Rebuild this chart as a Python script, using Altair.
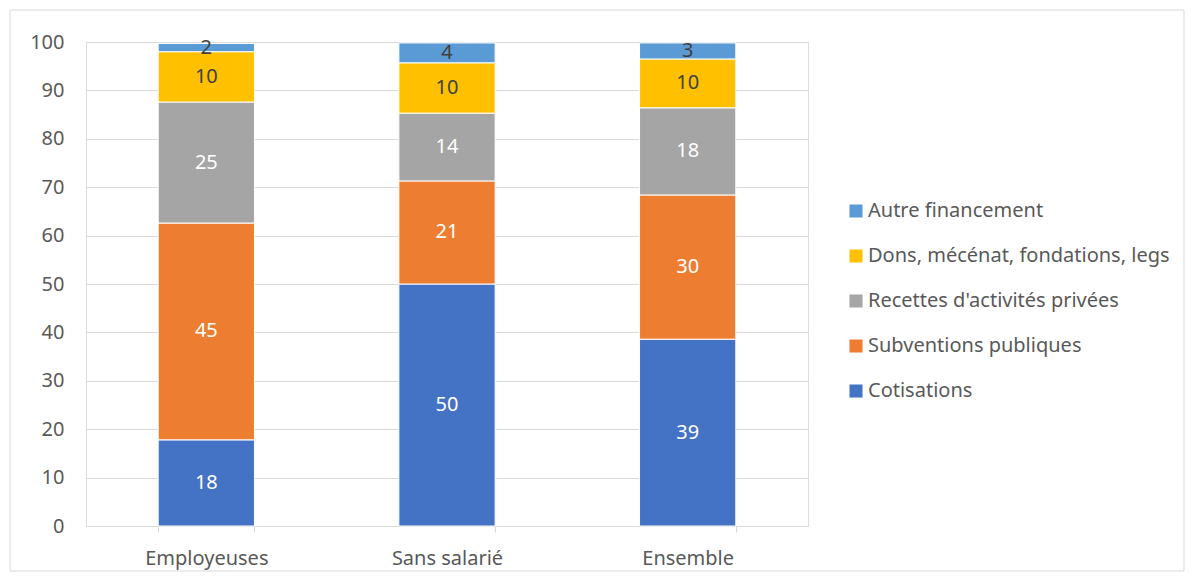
import altair as alt
import pandas as pd

categories = ["Employeuses", "Sans salarié", "Ensemble"]
series = ["Cotisations", "Subventions publiques", "Recettes d'activités privées",
          "Dons, mécénat, fondations, legs", "Autre financement"]
colors = ["#4472C4", "#ED7D31", "#A5A5A5", "#FFC000", "#5B9BD5"]
label_colors = ["white", "white", "white", "#404040", "#404040"]
values = {
    "Employeuses": [17.8, 44.8, 25.0, 10.4, 1.7],
    "Sans salarié": [50.0, 21.3, 14.0, 10.4, 4.1],
    "Ensemble": [38.6, 29.8, 18.0, 10.1, 3.3],
}

rows = []
for c in categories:
    for i, s in enumerate(series):
        rows.append({"cat": c, "serie": s, "idx": i, "value": values[c][i],
                     "tc": label_colors[i]})
df = pd.DataFrame(rows)

FONT = "Noto Sans"
FS = 20
legend_order = series[::-1]
legend_colors = colors[::-1]

base = alt.Chart(df).transform_stack(
    stack="value", groupby=["cat"], sort=[alt.SortField("idx", order="ascending")],
    as_=["y0", "y1"]
).transform_calculate(mid="(datum.y0 + datum.y1) / 2")

xenc = alt.X("cat:N", sort=categories, title=None,
             scale=alt.Scale(paddingInner=0.6, paddingOuter=0.3),
             axis=alt.Axis(labelAngle=0, labelFontSize=FS, labelColor="#595959",
                           labelFont=FONT, labelPadding=16, domainColor="#D9D9D9",
                           tickColor="#D9D9D9", tickBand="extent", tickSize=6,
                           grid=False))

bars = base.mark_bar(stroke="white", strokeWidth=1).encode(
    x=xenc,
    y=alt.Y("y0:Q", title=None,
            scale=alt.Scale(domain=[0, 100]),
            axis=alt.Axis(values=list(range(0, 101, 10)), labelFontSize=FS,
                          labelColor="#595959", labelFont=FONT, domain=False,
                          ticks=False, gridColor="#D9D9D9", labelPadding=22)),
    y2="y1:Q",
    color=alt.Color("serie:N", title=None,
                    scale=alt.Scale(domain=legend_order, range=legend_colors),
                    legend=alt.Legend(orient="none", legendX=760, legendY=159,
                                      labelFontSize=FS, labelFont=FONT,
                                      labelColor="#595959", symbolType="square",
                                      symbolSize=170, symbolStrokeWidth=0,
                                      rowPadding=25, labelOffset=2,
                                      labelLimit=400)),
    order=alt.Order("idx:Q"),
)

labels = base.mark_text(fontSize=FS, font=FONT, baseline="middle").encode(
    x=alt.X("cat:N", sort=categories),
    y=alt.Y("mid:Q"),
    text=alt.Text("value:Q", format=".0f"),
    color=alt.Color("tc:N", scale=None),
)

frame = alt.Chart(pd.DataFrame({"a": [0]})).mark_rect(
    fill=None, stroke="#D9D9D9", strokeWidth=1
).encode(x=alt.value(-76), x2=alt.value(1098), y=alt.value(-32), y2=alt.value(529))

chart = alt.layer(frame, bars, labels).properties(
    width=722, height=484,
    autosize=alt.AutoSizeParams(type="none"),
    padding={"left": 78, "top": 34, "right": 377, "bottom": 46},
).configure_view(stroke=None).configure(background="white")

chart.save("out.html", embed_options={"renderer": "svg", "actions": False})
